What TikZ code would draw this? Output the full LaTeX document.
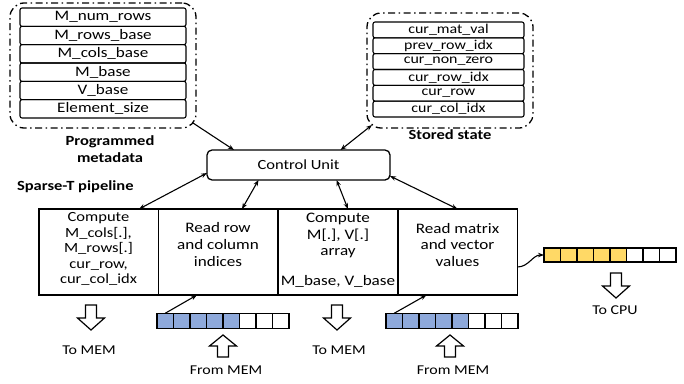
\documentclass[tikz,border=0pt]{standalone}
\usepackage{fontspec}
\setmainfont{Carlito}[FakeStretch=1.18]
\usetikzlibrary{arrows.meta,calc}
\definecolor{cellblue}{HTML}{8EA9DB}
\definecolor{cellyellow}{HTML}{FFD966}

\begin{document}
\begin{tikzpicture}[x=1pt,y=-1pt,
  every node/.style={inner sep=0pt, outer sep=0pt},
  txt/.style={font=\fontsize{14.5}{16}\selectfont, text height=0.7em, text depth=0.2em},
  densetxt/.style={font=\fontsize{14}{15}\selectfont, text height=0.7em, text depth=0.2em},
  labeltxt/.style={font=\fontsize{13.5}{15}\selectfont, text height=0.7em, text depth=0.2em},
  boldtxt/.style={font=\bfseries\fontsize{14}{16}\selectfont, text height=0.7em, text depth=0.2em},
  group/.style={draw, line width=1.3pt, dash pattern=on 7pt off 3.5pt on 1.5pt off 3.5pt, rounded corners=14pt},
  field/.style={draw, line width=1.1pt, rounded corners=2pt},
  stagebox/.style={draw, line width=1.5pt, minimum width=119.5pt, minimum height=86pt},
  unitbox/.style={draw, line width=1.3pt, rounded corners=5pt, minimum width=183pt, minimum height=30pt, font=\fontsize{14}{16}\selectfont},
  cell/.style={draw, line width=1.1pt, minimum width=16.5pt},
  link/.style={line width=1.1pt, -{Stealth[length=6pt,width=4.5pt]}},
  biglink/.style={line width=1.1pt, {Stealth[length=6pt,width=4.5pt]}-{Stealth[length=6pt,width=4.5pt]}},
  blockarrow/.style={draw, line width=1.2pt, fill=white, line join=miter},
  downarrow/.pic={\draw[blockarrow] (-5.5,0) -- (5.5,0) -- (5.5,13) -- (13.5,13) -- (0,25) -- (-13.5,13) -- (-5.5,13) -- cycle;},
  uparrow/.pic={\draw[blockarrow] (0,0) -- (13.5,11) -- (5.5,11) -- (5.5,22) -- (-5.5,22) -- (-5.5,11) -- (-13.5,11) -- cycle;}
]
\useasboundingbox (0,0) rectangle (684,383);

% programmed metadata registers
\node[group, minimum width=186pt, minimum height=125pt] (meta) at (103,65.5) {};
\foreach \i/\t in {1/M\_num\_rows, 2/M\_rows\_base, 3/M\_cols\_base, 4/M\_base, 5/V\_base, 6/Element\_size}
  \node[field, font=\fontsize{14.5}{16}\selectfont, minimum width=166pt, minimum height=18.33pt] (m\i) at (103,{8+18.33*(\i-0.5)}) {\t};
\node[boldtxt] (metalbl1) at (110,143) {Programmed};
\node[boldtxt] (metalbl2) at (110,160) {metadata};

% stored state registers
\node[group, minimum width=166pt, minimum height=115pt] (state) at (450,70.5) {};
\foreach \i/\t in {1/cur\_mat\_val, 2/prev\_row\_idx, 3/cur\_non\_zero, 4/cur\_row\_idx, 5/cur\_row, 6/cur\_col\_idx}
  \node[field, font=\fontsize{13.5}{15}\selectfont, minimum width=151pt, minimum height=15.83pt] (r\i) at (448.5,{22+15.83*(\i-0.5)}) {\t};
\node[boldtxt] (statelbl) at (450,137) {Stored state};

% control unit
\node[unitbox] (cu) at (298.5,165) {Control Unit};
\node[boldtxt, anchor=west] (pipelbl) at (17,188) {Sparse-T pipeline};

% pipeline stages
\node[stagebox] (s1) at (98.5,252) {};
\node[stagebox] (s2) at (218,252) {};
\node[stagebox] (s3) at (338,252) {};
\node[stagebox] (s4) at (457.5,252) {};

\node[densetxt] (s1a) at (98.5,219) {Compute};
\node[densetxt] (s1b) at (98.5,234.5) {M\_cols[.],};
\node[densetxt] (s1c) at (98.5,250) {M\_rows[.]};
\node[densetxt] (s1d) at (98.5,265.5) {cur\_row,};
\node[densetxt] (s1e) at (98.5,281) {cur\_col\_idx};

\node[txt] (s2a) at (218,230) {Read row};
\node[txt] (s2b) at (218,247) {and column};
\node[txt] (s2c) at (218,264) {indices};

\node[txt] (s3a) at (338,220) {Compute};
\node[txt] (s3b) at (338,237) {M[.], V[.]};
\node[txt] (s3c) at (338,253) {array};
\node[txt] (s3d) at (338,283) {M\_base, V\_base};

\node[txt] (s4a) at (457.5,231) {Read matrix};
\node[txt] (s4b) at (457.5,247) {and vector};
\node[txt] (s4c) at (457.5,264) {values};

% memory and output buffers
\foreach \i in {1,...,8} {
  \pgfmathsetmacro{\cx}{157+16.5*(\i-0.5)}
  \pgfmathsetmacro{\dx}{386+16.5*(\i-0.5)}
  \pgfmathsetmacro{\ex}{544+16.5*(\i-0.5)}
  \ifnum\i<6
    \node[cell, minimum height=15.5pt, fill=cellblue] (a\i) at (\cx,321) {};
    \node[cell, minimum height=15.5pt, fill=cellblue] (b\i) at (\dx,321) {};
    \node[cell, minimum height=14pt, fill=cellyellow] (y\i) at (\ex,255) {};
  \else
    \node[cell, minimum height=15.5pt, fill=white] (a\i) at (\cx,321) {};
    \node[cell, minimum height=15.5pt, fill=white] (b\i) at (\dx,321) {};
    \node[cell, minimum height=14pt, fill=white] (y\i) at (\ex,255) {};
  \fi
}

% connectors
\draw[link] ([xshift=-3pt,yshift=5pt]meta.south east) -- ([xshift=-64.5pt]cu.north);
\draw[biglink] ([xshift=42pt]cu.north) -- ([xshift=5pt,yshift=3pt]state.south west);
\draw[biglink] ([yshift=-8pt]cu.west) -- ([xshift=40.5pt]s1.north);
\draw[biglink] ([xshift=-40pt]cu.south) -- ([xshift=24pt]s2.north);
\draw[biglink] ([xshift=38pt]cu.south) -- ([xshift=10pt]s3.north);
\draw[biglink] ([yshift=-11pt]cu.east) -- (s4.north);
\draw[link] (a1.north) -- ([xshift=-21pt]s2.south);
\draw[link] (b1.north) -- ([xshift=-31pt]s4.south);
\draw[link] ([yshift=-15pt]s4.east) to[out=0,in=180] (y1.west);

% transfers to and from memory
\pic at (91,305) {downarrow};
\node[labeltxt] (tomem1) at (89,352) {To MEM};
\pic at (223,335) {uparrow};
\node[labeltxt] (frommem1) at (226,372) {From MEM};
\pic at (337,305) {downarrow};
\node[labeltxt] (tomem2) at (339,352) {To MEM};
\pic at (450,335) {uparrow};
\node[labeltxt] (frommem2) at (453,372) {From MEM};
\pic at (616,273) {downarrow};
\node[labeltxt] (tocpu) at (615,312) {To CPU};
\end{tikzpicture}
\end{document}
